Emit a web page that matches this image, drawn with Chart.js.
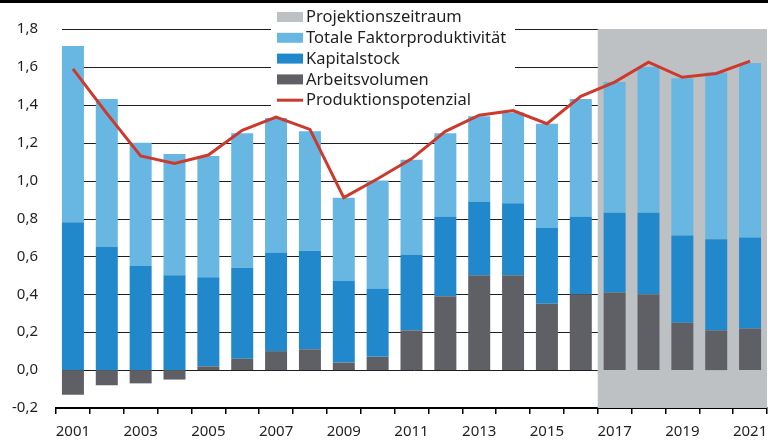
<!DOCTYPE html>
<html><head><meta charset="utf-8">
<script src="https://cdn.jsdelivr.net/npm/chart.js@4/dist/chart.umd.min.js"></script>
<style>html,body{margin:0;padding:0;background:#fff;}#wrap{width:768px;height:444px;position:relative;}</style>
</head><body><div id="wrap"><canvas id="c" width="768" height="444"></canvas></div>
<script>
const years = ['2001','2002','2003','2004','2005','2006','2007','2008','2009','2010','2011','2012','2013','2014','2015','2016','2017','2018','2019','2020','2021'];
const arbeitsvolumen = [-0.13,-0.08,-0.07,-0.05,0.02,0.06,0.10,0.11,0.04,0.07,0.21,0.39,0.50,0.50,0.35,0.40,0.41,0.40,0.25,0.21,0.22];
const kapitalstock = [0.78,0.65,0.55,0.50,0.47,0.48,0.52,0.52,0.43,0.36,0.40,0.42,0.39,0.38,0.40,0.41,0.42,0.43,0.46,0.48,0.48];
const tfp = [0.93,0.78,0.65,0.64,0.64,0.71,0.71,0.63,0.44,0.57,0.50,0.44,0.45,0.48,0.55,0.62,0.69,0.77,0.83,0.88,0.92];
const produktionspotenzial = [1.59,1.355,1.13,1.09,1.135,1.265,1.335,1.27,0.91,1.01,1.115,1.26,1.345,1.37,1.30,1.445,1.52,1.625,1.545,1.565,1.63];
const projectionStart = '2017';
const yTicks = [-0.2,0,0.2,0.4,0.6,0.8,1.0,1.2,1.4,1.6,1.8];
const labels = {proj:'Projektionszeitraum', tfp:'Totale Faktorproduktivität', kap:'Kapitalstock', arb:'Arbeitsvolumen', pot:'Produktionspotenzial'};

const COL = {proj:'#bec1c4', tfp:'#67b7e2', kap:'#2189cb', arb:'#5f6065', pot:'#cc3a2d', text:'#231f20'};
const FONT = '"Noto Sans", sans-serif';

const decor = {
  id:'decor',
  beforeDatasetsDraw(chart){
    const {ctx, chartArea:a, scales:{x,y}} = chart;
    ctx.save();
    ctx.strokeStyle = '#1e1e1e'; ctx.lineWidth = 1;
    yTicks.forEach(v=>{ if(v<=yTicks[0]) return;
      const py = Math.round(y.getPixelForValue(v))+0.5;
      ctx.beginPath(); ctx.moveTo(a.left+6, py); ctx.lineTo(a.right, py); ctx.stroke();
    });
    const i = years.indexOf(projectionStart);
    const x0 = (x.getPixelForValue(i-1)+x.getPixelForValue(i))/2;
    const yt = y.getPixelForValue(yTicks[yTicks.length-1]);
    const yb = y.getPixelForValue(yTicks[0]);
    ctx.fillStyle = COL.proj;
    ctx.fillRect(x0, yt, a.right-x0, yb-yt);
    ctx.fillStyle = '#fff';
    ctx.fillRect(271, 4, 244, 106);
    ctx.restore();
  },
  afterDraw(chart){
    const {ctx} = chart;
    ctx.save();
    ctx.fillStyle = '#000';
    ctx.fillRect(0,0,768,3);
    const items = [
      {t:labels.proj, c:COL.proj, k:'box'},
      {t:labels.tfp, c:COL.tfp, k:'box'},
      {t:labels.kap, c:COL.kap, k:'box'},
      {t:labels.arb, c:COL.arb, k:'box'},
      {t:labels.pot, c:COL.pot, k:'line'}
    ];
    ctx.font = '16.5px ' + FONT;
    ctx.textBaseline = 'middle';
    items.forEach((it,j)=>{
      const cy = 17 + j*20.8;
      if(it.k==='box'){ ctx.fillStyle = it.c; ctx.fillRect(277, cy-5, 26, 10); }
      else { ctx.fillStyle = it.c; ctx.fillRect(277, cy-1.5, 26, 3); }
      ctx.fillStyle = COL.text;
      ctx.fillText(it.t, 306, cy+0.5);
    });
    ctx.restore();
  }
};

new Chart(document.getElementById('c'), {
  data:{
    labels: years,
    datasets:[
      {type:'line', label:labels.pot, data:produktionspotenzial, borderColor:COL.pot, borderWidth:3, pointRadius:0, tension:0, fill:false, order:0, stack:'pot'},
      {type:'bar', label:labels.arb, data:arbeitsvolumen, backgroundColor:COL.arb, order:1, stack:'s', barPercentage:0.65, categoryPercentage:1},
      {type:'bar', label:labels.kap, data:kapitalstock, backgroundColor:COL.kap, order:1, stack:'s', barPercentage:0.65, categoryPercentage:1},
      {type:'bar', label:labels.tfp, data:tfp, backgroundColor:COL.tfp, order:1, stack:'s', barPercentage:0.65, categoryPercentage:1}
    ]
  },
  options:{
    responsive:false, animation:false, devicePixelRatio:1,
    layout:{padding:{top:29, right:1, left:0, bottom:0}},
    plugins:{legend:{display:false}, tooltip:{enabled:false}},
    scales:{
      x:{
        stacked:true, offset:true,
        grid:{display:true, offset:true, drawOnChartArea:false, drawTicks:true, tickLength:6, color:'#000', lineWidth:1.5},
        border:{display:true, color:'#000', width:2},
        ticks:{autoSkip:false, maxRotation:0, padding:9, color:COL.text, font:{family:FONT, size:15},
          callback:function(v,i){ return i%2===0 ? years[i] : ''; }},
        afterFit(s){ s.height = 36; s.paddingLeft = 0; s.paddingRight = 0; }
      },
      y:{
        stacked:true, min:yTicks[0], max:yTicks[yTicks.length-1],
        afterBuildTicks(s){ s.ticks = yTicks.map(v=>({value:v})); },
        grid:{display:false, drawTicks:false},
        border:{display:false},
        ticks:{padding:18, color:COL.text, font:{family:FONT, size:15},
          callback:function(v){ return v.toFixed(1).replace('.',','); }},
        afterFit(s){ s.width = 56; s.paddingTop = 0; s.paddingBottom = 0; }
      }
    }
  },
  plugins:[decor]
});
</script></body></html>
